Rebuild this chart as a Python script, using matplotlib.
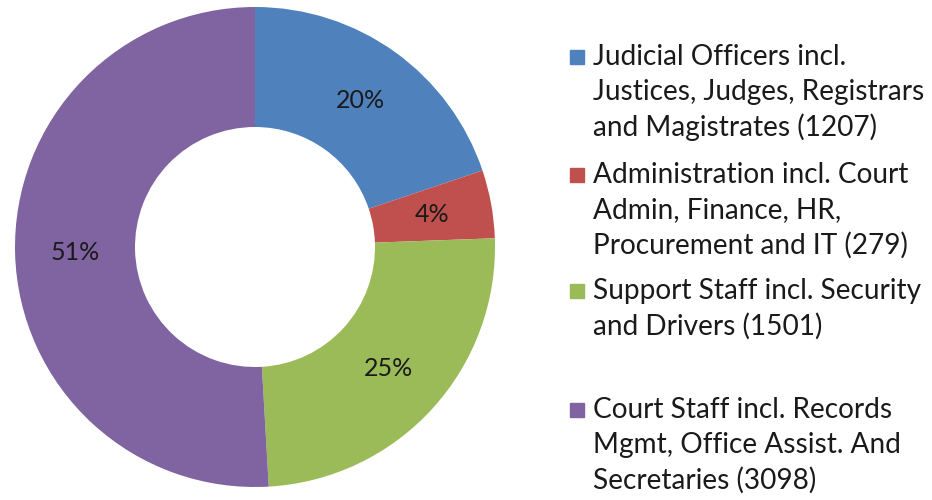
import matplotlib.pyplot as plt
from matplotlib.patches import Rectangle

# Staff composition
labels = [
    'Judicial Officers incl.\nJustices, Judges, Registrars\nand Magistrates (1207)',
    'Administration incl. Court\nAdmin, Finance, HR,\nProcurement and IT (279)',
    'Support Staff incl. Security\nand Drivers (1501)',
    'Court Staff incl. Records\nMgmt, Office Assist. And\nSecretaries (3098)',
]
counts = [1207, 279, 1501, 3098]
pct_labels = ['20%', '4%', '25%', '51%']
colors = ['#4F81BD', '#C0504D', '#9BBB59', '#8064A2']

plt.rcParams['font.family'] = ['Lato', 'DejaVu Sans']

W, H = 932, 500
fig = plt.figure(figsize=(W / 100, H / 100), dpi=100)

# donut centred at (255, 247) px, outer radius 240 px
cx, cy, r = 255, 247, 240
ax = fig.add_axes([(cx - r) / W, (H - cy - r) / H, 2 * r / W, 2 * r / H])
wedges, texts = ax.pie(
    counts, colors=colors, startangle=90, counterclock=False,
    labels=pct_labels, labeldistance=0.75,
    wedgeprops=dict(width=0.5, edgecolor='none', linewidth=0),
    textprops=dict(fontsize=18, color='#1a1a1a'))
for t in texts:
    t.set_ha('center')
    t.set_va('center')
ax.set_xlim(-1, 1)
ax.set_ylim(-1, 1)
ax.set_aspect('equal')
ax.axis('off')

# legend drawn by hand
entry_y = [57, 175, 291, 410]
line_h = 35
for lab, col, y0 in zip(labels, colors, entry_y):
    fig.patches.append(Rectangle((570 / W, 1 - (y0 + 7) / H), 14 / W, 14 / H,
                                 transform=fig.transFigure, color=col))
    for i, line in enumerate(lab.split('\n')):
        fig.text(593 / W, 1 - (y0 + i * line_h) / H, line, fontsize=20.2,
                 va='center', ha='left', color='#1a1a1a')

plt.savefig('out.png', dpi=100)
